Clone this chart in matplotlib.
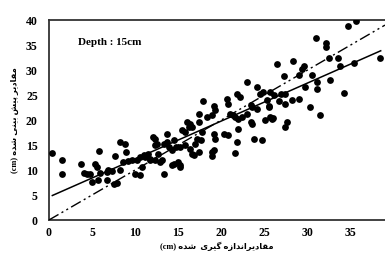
import numpy as np
import matplotlib
matplotlib.use('Agg')
import matplotlib.pyplot as plt

measured = [0.4, 1.5, 1.5, 3.7, 4.1, 4.4, 4.8, 5.4, 5.6, 5.8, 5.0, 5.7, 5.9, 6.7, 6.9, 6.7, 7.3, 7.7,
            8.3, 8.8, 8.3, 7.5, 7.9, 9.0, 8.6, 9.2, 9.7, 10.2, 10.6, 10.0, 10.6, 10.8, 11.2, 11.5, 11.7,
            12.1, 12.3, 12.7, 11.0,
            12.3, 12.5, 13.3, 13.7, 14.5, 13.9, 14.3, 14.7, 15.2, 15.8, 16.4, 16.6, 17.4, 18.9, 19.1,
            21.6, 11.7, 12.3, 12.9, 13.1, 14.5, 15.0, 15.2, 13.3, 14.3, 15.2, 16.8, 18.9, 13.7, 15.8,
            15.4, 16.0, 16.4, 16.2, 16.6, 17.4, 17.8, 19.1, 19.3, 20.3, 20.8, 22.0, 21.8, 23.8, 24.7,
            17.2, 17.6, 17.0, 17.4, 18.3, 18.9, 21.0, 21.4, 22.4, 23.0, 23.4, 23.6, 25.1, 19.1, 19.3,
            17.9, 20.7, 20.8, 21.8, 22.2, 23.0, 24.2, 24.5, 24.9, 23.4, 25.3, 21.6, 22.0, 23.6, 24.2,
            25.5, 25.7, 25.9,
            34.7, 35.6, 31.0, 32.1, 32.2, 32.5, 33.5, 33.8, 35.4, 38.4, 28.3, 26.5, 29.6, 29.4, 27.3,
            29.0, 30.5, 31.1, 31.1, 32.6, 29.7, 34.3, 25.7, 26.1, 26.9, 27.4, 26.7, 27.4, 28.2, 29.0,
            25.5, 30.3, 31.4, 26.0, 27.6, 27.4]
predicted = [13.5, 12.1, 9.2, 11.3, 9.5, 9.3, 9.3, 11.3, 10.7, 13.9, 7.7, 8.0, 9.5, 9.7, 10.0, 8.0, 9.9, 12.8,
             15.7, 15.2, 10.0, 7.3, 7.5, 13.7, 11.7, 11.9, 12.0, 12.1, 12.7, 9.3, 9.0, 10.7, 12.7, 13.3, 12.0,
             16.7, 15.0, 13.3, 13.0,
             16.3, 15.3, 15.3, 15.7, 16.0, 14.7, 14.0, 14.7, 14.7, 15.0, 14.3, 13.3, 13.7, 13.7, 14.0,
             13.5, 12.3, 12.0, 11.7, 12.0, 11.3, 11.7, 10.7, 9.3, 11.0, 11.0, 13.0, 12.8, 17.3, 17.7,
             18.0, 19.7, 19.3, 18.7, 18.7, 19.7, 17.7, 17.3, 16.3, 17.3, 17.0, 18.3, 15.7, 16.3, 16.1,
             16.3, 16.0, 15.3, 21.3, 20.7, 21.0, 21.3, 21.0, 20.7, 21.3, 19.7, 19.3, 20.0, 22.8, 22.0,
             23.9, 24.3, 23.3, 25.3, 24.7, 27.7, 26.7, 25.3, 25.7, 23.0, 24.0, 20.7, 20.3, 22.7, 22.3,
             22.7, 20.7, 20.3,
             38.9, 39.8, 36.5, 35.5, 34.7, 32.5, 32.5, 30.9, 31.5, 32.5, 31.9, 31.3, 30.9, 30.3, 28.9,
             29.0, 29.0, 27.7, 26.2, 28.1, 26.7, 25.5, 25.7, 25.0, 25.3, 25.2, 23.8, 23.3, 24.0, 24.3,
             22.8, 22.7, 21.0, 20.5, 19.7, 18.7]

# trend line
slope = 0.76
intercept = 4.6
fit_range = [0.4, 38.5]
one_to_one = [0, 39]

xticks = [0, 5, 10, 15, 20, 25, 30, 35]
yticks = [0, 5, 10, 15, 20, 25, 30, 35, 40]

# minimal Persian shaping (matplotlib does no bidi / joining)
FORMS = {
    'م': ('\uFEE1', '\uFEE2', '\uFEE3', '\uFEE4'),
    'ق': ('\uFED5', '\uFED6', '\uFED7', '\uFED8'),
    'ا': ('\uFE8D', '\uFE8E', None, None),
    'د': ('\uFEA9', '\uFEAA', None, None),
    'ی': ('\uFBFC', '\uFBFD', '\uFBFE', '\uFBFF'),
    'ر': ('\uFEAD', '\uFEAE', None, None),
    'ن': ('\uFEE5', '\uFEE6', '\uFEE7', '\uFEE8'),
    'ز': ('\uFEAF', '\uFEB0', None, None),
    'ه': ('\uFEE9', '\uFEEA', '\uFEEB', '\uFEEC'),
    'گ': ('\uFB92', '\uFB93', '\uFB94', '\uFB95'),
    'پ': ('\uFB56', '\uFB57', '\uFB58', '\uFB59'),
    'ش': ('\uFEB5', '\uFEB6', '\uFEB7', '\uFEB8'),
    'ب': ('\uFE8F', '\uFE90', '\uFE91', '\uFE92'),
}


def shape(text):
    out = []
    for i, ch in enumerate(text):
        if ch not in FORMS:
            out.append(ch)
            continue
        prev = text[i - 1] if i > 0 else ''
        nxt = text[i + 1] if i + 1 < len(text) else ''
        dual = FORMS[ch][2] is not None
        jp = prev in FORMS and FORMS[prev][2] is not None
        jn = dual and nxt in FORMS
        if jp and jn:
            out.append(FORMS[ch][3])
        elif jp:
            out.append(FORMS[ch][1])
        elif jn:
            out.append(FORMS[ch][2])
        else:
            out.append(FORMS[ch][0])
    return ''.join(out)[::-1]


xlabel = '(cm) ' + shape('مقادیراندازه گیری  شده')
ylabel = '(cm) ' + shape('مقادیر پیش بینی شده')

fig = plt.figure(figsize=(3.85, 2.61), dpi=100)
ax = fig.add_axes([0.127, 0.157, 0.873, 0.766])

ax.scatter(measured, predicted, s=24, color='black', zorder=3, linewidths=0)
fx = np.array(fit_range)
ax.plot(fx, slope * fx + intercept, color='black', lw=1.1, zorder=4)
ax.plot(one_to_one, one_to_one, color='black', lw=1.0, dashes=(8, 2.5, 1.5, 2.5, 1.5, 2.5), zorder=4)

ax.set_xlim(0, 39)
ax.set_ylim(0, 40)
ax.set_xticks(xticks)
ax.set_yticks(yticks)
ax.tick_params(length=0, labelsize=8.5)
ax.tick_params(axis='x', pad=5)
ax.tick_params(axis='y', pad=8)
for lab in ax.get_xticklabels() + ax.get_yticklabels():
    lab.set_fontfamily('Liberation Serif')
    lab.set_fontweight('bold')

for side in ['left', 'top', 'bottom']:
    ax.spines[side].set_linewidth(1.3)
    ax.spines[side].set_color('#333333')
ax.spines['right'].set_visible(False)

ax.text(3.4, 35.6, 'Depth : 15cm', family='Liberation Serif', weight='bold', fontsize=8, va='center')

ax.set_xlabel(xlabel, family=['Liberation Serif', 'DejaVu Sans'], weight='bold', fontsize=6, labelpad=2)
ax.set_ylabel(ylabel, family=['Liberation Serif', 'DejaVu Sans'], weight='bold', fontsize=6, labelpad=5)

fig.savefig('out.png', dpi=100)
